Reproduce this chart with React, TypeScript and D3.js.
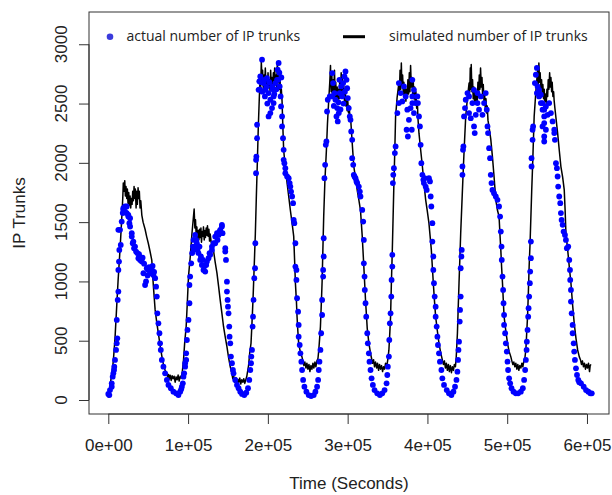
import React, { useEffect, useRef } from 'react';
import * as d3 from 'd3';

// Simulated number of IP trunks, [time in thousands of seconds, trunks]
const simulatedDay1: [number, number][] = [
  [0.0, 20], [2.1, 120], [4.6, 230], [6.3, 330], [8.4, 520], [10.6, 800], [12.2, 1000], [14.7, 1270], [16.6, 1500],
  [18.1, 1700], [18.8, 1830], [19.7, 1760], [20.6, 1850], [21.4, 1720], [22.2, 1800], [23.1, 1700], [23.9, 1780],
  [24.7, 1660], [25.6, 1750], [26.4, 1640], [27.3, 1720], [28.1, 1620], [28.9, 1700], [29.8, 1650], [30.6, 1760],
  [31.4, 1680], [32.3, 1800], [33.2, 1700], [33.9, 1780], [34.8, 1620], [35.7, 1760], [36.4, 1650], [37.3, 1790],
  [38.2, 1700], [38.9, 1760], [39.8, 1620], [40.7, 1680], [42.0, 1560], [43.6, 1500], [46.1, 1440], [48.0, 1380],
  [50.2, 1320], [52.4, 1250], [54.5, 1180], [56.5, 960], [58.7, 760], [60.8, 650], [62.8, 560], [64.9, 460],
  [67.1, 370], [69.1, 300], [71.2, 250], [73.4, 225], [74.4, 190], [75.4, 215], [76.2, 175], [77.5, 210], [78.8, 165],
  [80.0, 205], [81.3, 180], [82.5, 200], [83.8, 150], [85.0, 195], [86.3, 170], [87.5, 210], [88.8, 160], [90.1, 200],
  [91.3, 185], [92.6, 230],
];
const simulatedDay2: [number, number][] = [
  [94.2, 330], [95.7, 480], [97.6, 620], [99.1, 830], [100.5, 1040], [102.6, 1200], [104.8, 1400], [106.4, 1520],
  [107.6, 1610], [108.5, 1450], [109.3, 1520], [110.2, 1380], [111.0, 1460], [111.8, 1340], [112.7, 1430],
  [113.5, 1350], [114.3, 1440], [115.2, 1370], [116.1, 1450], [116.8, 1330], [117.7, 1420], [118.6, 1380],
  [119.3, 1460], [120.2, 1350], [121.1, 1430], [121.8, 1370], [122.7, 1450], [123.6, 1390], [124.3, 1470],
  [125.2, 1380], [126.1, 1440], [126.9, 1340], [127.7, 1400], [129.0, 1330], [130.2, 1300], [131.9, 1260],
  [134.0, 1160], [136.2, 1070], [138.2, 960], [140.3, 840], [142.4, 730], [144.4, 620], [146.6, 530], [148.7, 450],
  [150.7, 360], [152.9, 280], [154.7, 230], [156.0, 180], [157.3, 200], [158.5, 150], [159.8, 190], [161.0, 140],
  [162.3, 175], [163.5, 150], [164.8, 185], [166.0, 135], [167.3, 170], [168.6, 150], [169.8, 180], [171.1, 140],
  [172.3, 170], [173.6, 200], [174.8, 250], [175.8, 290], [177.3, 400],
];
const simulatedDay3: [number, number][] = [
  [178.9, 480], [180.1, 650], [181.4, 850], [183.0, 1150], [184.3, 1400], [185.5, 1700], [186.8, 2000], [188.0, 2300],
  [189.3, 2550], [190.2, 2700], [190.9, 2620], [191.8, 2850], [192.7, 2700], [193.4, 2780], [194.3, 2620],
  [195.2, 2740], [195.9, 2640], [196.8, 2800], [197.7, 2650], [198.4, 2720], [199.3, 2600], [200.2, 2760],
  [201.0, 2640], [201.8, 2700], [202.7, 2610], [203.5, 2780], [204.3, 2650], [205.2, 2720], [206.0, 2620],
  [206.9, 2760], [207.7, 2640], [208.5, 2800], [209.4, 2660], [210.3, 2740], [211.0, 2620], [211.9, 2850],
  [212.8, 2680], [213.5, 2760], [214.4, 2620], [215.3, 2700], [216.0, 2580], [216.9, 2620], [217.8, 2520],
  [218.8, 2300], [219.8, 2110], [221.9, 1950], [224.1, 1830], [226.1, 1720], [228.2, 1600], [230.4, 1490],
  [232.4, 1380], [233.5, 1180], [234.5, 990], [235.8, 830], [236.6, 700], [237.6, 580], [238.6, 480], [240.8, 400],
  [242.9, 360], [243.9, 330], [245.2, 290], [246.4, 320], [247.7, 270], [248.9, 310], [250.2, 260], [251.5, 300],
  [252.7, 240], [254.0, 290], [255.2, 260], [256.5, 310], [257.7, 270], [259.0, 320], [260.2, 280], [261.5, 330],
  [262.8, 350], [263.8, 420], [264.9, 520],
];
const simulatedDay4: [number, number][] = [
  [265.9, 620], [267.2, 850], [268.0, 1000], [269.0, 1280], [270.0, 1550], [271.5, 1850], [273.4, 2110], [274.7, 2330],
  [276.3, 2530], [277.6, 2680], [278.5, 2820], [279.3, 2600], [280.1, 2760], [281.0, 2550], [281.9, 2700],
  [282.6, 2600], [283.5, 2780], [284.4, 2560], [285.1, 2680], [286.0, 2520], [286.9, 2640], [287.6, 2500],
  [288.5, 2620], [289.4, 2540], [290.1, 2700], [291.0, 2580], [291.9, 2760], [292.6, 2600], [293.5, 2720],
  [294.4, 2560], [295.2, 2650], [296.0, 2520], [296.9, 2620], [297.7, 2480], [298.6, 2560], [299.4, 2440],
  [300.2, 2520], [301.1, 2420], [301.9, 2480], [302.7, 2400], [303.6, 2390], [305.7, 2170], [307.7, 1970],
  [309.9, 1870], [312.0, 1770], [314.0, 1690], [316.1, 1600], [318.3, 1380], [320.3, 1125], [322.4, 844],
  [324.6, 600], [326.6, 480], [328.7, 394], [330.0, 350], [331.2, 310], [332.5, 340], [333.7, 280], [335.0, 320],
  [336.3, 270], [337.5, 310], [338.8, 250], [340.0, 300], [341.3, 260], [342.5, 290], [343.8, 240], [345.0, 280],
  [346.3, 260], [347.5, 310], [348.8, 280], [350.1, 330], [351.7, 420],
];
const simulatedDay5: [number, number][] = [
  [352.8, 560], [353.8, 703], [354.8, 980], [356.0, 1266], [357.0, 1550], [358.0, 1829], [359.1, 2100], [360.1, 2391],
  [362.0, 2550], [364.2, 2673], [364.9, 2600], [365.7, 2780], [366.6, 2620], [367.3, 2842], [368.0, 2650],
  [368.9, 2740], [369.8, 2580], [370.5, 2680], [371.4, 2560], [372.3, 2640], [373.0, 2520], [373.9, 2620],
  [374.8, 2560], [375.5, 2700], [376.4, 2580], [377.3, 2760], [378.1, 2600], [378.9, 2820], [379.8, 2640],
  [380.6, 2720], [381.5, 2580], [382.3, 2680], [383.1, 2540], [384.0, 2640], [384.8, 2500], [385.6, 2600],
  [386.5, 2460], [387.4, 2520], [388.1, 2380], [389.4, 2250], [391.5, 2110], [393.7, 1969], [395.6, 1830],
  [397.8, 1688], [399.9, 1590], [401.9, 1491], [403.4, 1380], [404.9, 1266], [406.2, 1120], [407.4, 985],
  [408.8, 840], [410.3, 703], [412.5, 580], [414.5, 478], [416.6, 400], [418.7, 338], [420.0, 300], [421.3, 330],
  [422.5, 270], [423.8, 310], [425.0, 250], [426.3, 300], [427.5, 240], [428.8, 290], [430.1, 230], [431.3, 280],
  [432.6, 250], [433.8, 300], [435.1, 280], [436.1, 360],
];
const simulatedDay6: [number, number][] = [
  [437.6, 563], [438.6, 780], [439.6, 985], [440.7, 1200], [441.7, 1407], [443.4, 1690], [445.1, 1969], [446.5, 2180],
  [448.0, 2391], [450.2, 2550], [452.2, 2673], [453.1, 2600], [453.7, 2800], [454.3, 2620], [454.9, 2830],
  [455.8, 2600], [456.6, 2700], [457.4, 2540], [458.3, 2640], [459.1, 2520], [460.0, 2600], [460.8, 2500],
  [461.6, 2580], [462.5, 2520], [463.3, 2680], [464.1, 2560], [465.0, 2740], [465.8, 2620], [466.6, 2800],
  [467.5, 2640], [468.4, 2720], [469.1, 2580], [470.0, 2660], [470.9, 2520], [471.6, 2600], [472.5, 2460],
  [473.4, 2540], [474.1, 2420], [475.0, 2480], [475.9, 2360], [477.3, 2300], [479.4, 2200], [481.5, 2050],
  [483.5, 1885], [485.7, 1688], [487.8, 1600], [489.8, 1547], [490.9, 1400], [492.0, 1266], [493.0, 1120],
  [494.1, 985], [495.1, 840], [496.1, 703], [498.3, 580], [500.4, 478], [502.4, 410], [504.5, 366], [505.8, 330],
  [507.1, 300], [508.3, 320], [509.6, 280], [510.8, 310], [512.1, 260], [513.3, 300], [514.6, 250], [515.8, 290],
  [517.1, 270], [518.4, 310], [519.6, 280], [520.9, 330], [522.1, 350], [523.4, 422],
];
const simulatedDay7: [number, number][] = [
  [524.4, 560], [525.5, 703], [526.5, 900], [527.5, 1125], [528.7, 1330], [529.7, 1547], [530.7, 1760], [531.8, 1969],
  [532.8, 2180], [533.8, 2391], [535.9, 2600], [538.1, 2785], [538.8, 2650], [539.7, 2842], [540.6, 2680],
  [541.3, 2760], [542.2, 2620], [543.1, 2700], [543.8, 2580], [544.7, 2660], [545.6, 2540], [546.4, 2620],
  [547.2, 2520], [548.1, 2580], [548.9, 2500], [549.8, 2620], [550.7, 2560], [551.4, 2700], [552.3, 2620],
  [553.2, 2760], [553.9, 2640], [554.8, 2720], [555.7, 2600], [556.4, 2680], [557.3, 2560], [558.2, 2600],
  [558.9, 2520], [559.8, 2460], [561.1, 2380], [563.2, 2251], [565.2, 2110], [567.3, 1969], [569.5, 1880],
  [571.5, 1772], [572.6, 1600], [573.6, 1407], [575.8, 1266], [577.8, 1125], [579.9, 985], [582.0, 800],
  [584.0, 647], [586.2, 520], [588.3, 422], [590.3, 366], [591.8, 340], [593.1, 300], [594.3, 330], [595.6, 280],
  [596.9, 310], [598.1, 260], [599.4, 300], [600.6, 270], [601.9, 310], [603.2, 240], [604.0, 290], [605.0, 300],
];

// Actual number of IP trunks, [time in thousands of seconds, trunks]
const actualDay1: [number, number][] = [
  [0.0, 51], [1.3, 42], [2.1, 84], [4.3, 112], [4.3, 141], [5.5, 197], [6.3, 225], [7.2, 253], [7.5, 281], [8.4, 338],
  [9.7, 422], [10.6, 478], [11.3, 520], [10.6, 675], [11.8, 844], [12.6, 914], [12.6, 1097], [13.4, 1167],
  [13.8, 1266], [15.6, 1308], [12.6, 1435], [14.7, 1435], [16.8, 1505], [18.1, 1576], [18.8, 1603], [18.8, 1618],
  [21.0, 1589], [21.0, 1632], [23.1, 1632], [23.1, 1576], [25.1, 1561], [25.1, 1547], [26.4, 1491], [27.3, 1533],
  [27.3, 1463], [29.4, 1407], [29.4, 1378], [30.6, 1322], [31.4, 1336], [32.3, 1280], [33.5, 1294], [34.8, 1252],
  [36.4, 1238], [37.7, 1196], [38.5, 1230], [39.8, 1181], [42.0, 1167], [43.0, 1200], [44.0, 1069], [44.9, 1150],
  [46.1, 970], [47.3, 1000], [48.2, 1111], [49.2, 1050], [50.2, 1097], [51.1, 1120], [52.4, 1069], [54.5, 1097],
  [55.5, 1130], [56.5, 1055], [57.4, 1080], [58.7, 1027], [59.9, 956], [60.8, 872], [61.5, 731], [62.8, 647],
  [64.1, 563], [64.9, 478], [65.8, 422], [67.1, 338], [69.1, 281], [71.2, 225], [73.4, 169], [75.4, 127], [78.4, 99],
  [81.6, 70], [85.0, 56], [87.9, 42], [90.1, 70],
];
const actualDay2: [number, number][] = [
  [91.3, 90], [92.2, 112], [93.4, 141], [94.2, 197], [95.1, 225], [96.3, 281], [96.3, 310], [97.6, 338], [97.6, 394],
  [98.5, 506], [99.2, 591], [100.5, 675], [101.7, 816], [101.7, 970], [102.6, 1041], [103.9, 1153], [105.1, 1238],
  [106.0, 1294], [106.8, 1350], [106.8, 1266], [108.9, 1392], [108.9, 1294], [110.2, 1350], [111.0, 1322],
  [111.8, 1266], [113.0, 1238], [114.3, 1294], [115.2, 1181], [116.1, 1210], [117.3, 1139], [118.6, 1181],
  [119.3, 1097], [120.2, 1125], [121.5, 1083], [122.7, 1139], [123.6, 1167], [125.6, 1196], [126.9, 1238],
  [127.7, 1224], [129.9, 1266], [129.9, 1294], [131.9, 1322], [134.0, 1378], [134.0, 1322], [136.2, 1407],
  [136.9, 1350], [138.2, 1392], [139.4, 1420], [140.3, 1435], [142.4, 1463], [142.4, 1477], [143.2, 1407],
  [146.6, 1280], [146.6, 1252], [147.5, 1181], [148.7, 998], [148.7, 914], [149.5, 844], [150.0, 787], [150.7, 731],
  [151.6, 619], [152.0, 534], [152.9, 478], [153.7, 366], [155.0, 310], [156.2, 253], [157.0, 225], [159.1, 169],
  [161.3, 127], [163.3, 99], [165.4, 70], [167.6, 51], [170.4, 42], [172.9, 62], [175.1, 99], [176.7, 169],
  [178.0, 253], [178.9, 310], [179.3, 366], [180.1, 422],
];
const actualDay3: [number, number][] = [
  [180.9, 619], [181.4, 703], [182.1, 844], [183.0, 1027], [183.9, 1111], [184.3, 1322], [185.2, 1913], [185.2, 2025],
  [185.6, 2053], [186.4, 2208], [186.4, 2321], [188.4, 2616], [189.3, 2687], [189.9, 2620], [190.5, 2729],
  [191.2, 2680], [192.7, 2870], [193.1, 2600], [194.7, 2673], [195.6, 2700], [196.3, 2560], [196.8, 2616],
  [198.1, 2640], [198.9, 2715], [199.3, 2500], [200.9, 2588], [200.9, 2391], [201.8, 2680], [203.1, 2532],
  [203.1, 2420], [205.2, 2644], [205.2, 2462], [206.2, 2620], [207.2, 2560], [207.2, 2504], [208.1, 2580],
  [209.4, 2673], [210.7, 2620], [211.5, 2700], [212.3, 2785], [213.2, 2700], [213.5, 2842], [214.4, 2760],
  [214.8, 2644], [216.0, 2560], [216.5, 2476], [216.9, 2720], [217.8, 2391], [217.8, 2307], [219.0, 2208],
  [219.8, 2110], [219.8, 2025], [220.7, 1997], [221.9, 1955], [221.9, 1913], [224.1, 1885], [226.1, 1871],
  [227.3, 1829], [228.2, 1800], [229.1, 1758], [230.4, 1716], [231.6, 1660], [232.4, 1519], [233.2, 1491],
  [234.5, 1322], [234.5, 1125], [235.8, 1097], [235.8, 1013], [236.6, 858], [237.9, 745], [238.6, 633], [238.6, 534],
  [239.9, 464], [240.8, 394], [242.0, 323], [242.9, 253], [244.2, 169], [245.8, 112], [248.3, 70], [251.2, 42],
  [254.2, 34], [257.5, 42], [259.6, 70], [261.7, 112], [263.0, 169], [263.8, 253], [264.7, 323], [265.9, 422],
];
const actualDay4: [number, number][] = [
  [266.8, 563], [268.0, 717], [268.0, 844], [269.3, 1041], [269.3, 1097], [270.0, 1210], [270.0, 1364], [270.9, 1871],
  [271.8, 1983], [272.6, 2152], [273.4, 2180], [274.2, 2433], [275.1, 2532], [277.6, 2560], [280.6, 2757],
  [280.6, 2560], [281.8, 2673], [282.7, 2480], [283.5, 2588], [284.7, 2532], [286.0, 2391], [286.9, 2462],
  [287.6, 2349], [288.5, 2510], [288.9, 2420], [289.7, 2700], [290.1, 2588], [291.0, 2450], [291.9, 2644],
  [293.1, 2560], [294.4, 2673], [294.8, 2500], [296.0, 2729], [296.6, 2600], [297.3, 2771], [298.6, 2700],
  [299.4, 2630], [300.2, 2546], [301.4, 2462], [302.7, 2391], [303.6, 2363], [304.5, 2265], [305.7, 2194],
  [305.7, 2039], [307.0, 1983], [307.7, 1899], [308.6, 1885], [309.9, 1871], [311.1, 1843], [312.0, 1829],
  [314.0, 1800], [315.3, 1758], [316.1, 1716], [318.3, 1603], [319.5, 1505], [320.3, 1350], [320.3, 1153],
  [321.2, 1041], [321.5, 928], [322.4, 816], [323.3, 703], [324.6, 563], [325.3, 478], [326.6, 394], [327.4, 323],
  [328.7, 253], [330.0, 183], [331.6, 127], [333.7, 84], [337.1, 56], [340.4, 42], [343.4, 56], [346.3, 84],
  [348.8, 141], [349.7, 211], [350.4, 281], [351.7, 366],
];
const actualDay5: [number, number][] = [
  [352.2, 506], [352.9, 647], [353.8, 731], [354.7, 872], [355.1, 1013], [356.0, 1125], [356.0, 1224], [356.7, 1829],
  [357.2, 1899], [358.0, 1955], [359.2, 2082], [360.1, 2138], [362.3, 2420], [364.2, 2504], [364.2, 2673],
  [366.4, 2588], [368.5, 2518], [370.6, 2644], [372.7, 2560], [373.9, 2279], [374.8, 2448], [375.5, 2222],
  [376.8, 2363], [378.9, 2462], [380.4, 2279], [381.1, 2560], [381.1, 2700], [381.1, 2504], [383.1, 2616],
  [383.1, 2420], [385.2, 2504], [387.4, 2560], [388.1, 2504], [389.4, 2391], [390.6, 2307], [391.5, 2152],
  [392.4, 1997], [393.7, 1899], [394.9, 1857], [395.6, 1829], [396.5, 1871], [397.8, 1800], [399.1, 1772],
  [401.9, 1871], [403.2, 1843], [404.1, 1716], [404.9, 1632], [406.2, 1491], [406.2, 1336], [407.4, 1210],
  [407.4, 1097], [408.2, 985], [409.1, 872], [410.3, 787], [410.3, 703], [411.6, 619], [412.5, 534], [413.2, 464],
  [414.5, 394], [415.7, 323], [417.5, 253], [418.7, 183], [420.8, 127], [424.2, 84], [427.0, 56], [430.1, 42],
  [432.6, 70], [434.6, 112], [436.4, 169],
];
const actualDay6: [number, number][] = [
  [437.6, 239], [438.4, 338], [438.9, 422], [439.6, 492], [440.5, 661], [440.9, 760], [441.7, 872], [441.7, 1111],
  [442.6, 1210], [443.0, 1266], [443.9, 1899], [443.9, 1969], [444.6, 2110], [445.1, 2138], [445.9, 2391],
  [447.1, 2462], [448.0, 2532], [450.2, 2588], [452.2, 2420], [452.2, 2560], [454.3, 2377], [456.4, 2504],
  [458.4, 2307], [458.4, 2616], [459.3, 2251], [460.6, 2405], [462.7, 2504], [462.7, 2588], [464.7, 2448],
  [466.9, 2560], [469.0, 2405], [471.0, 2504], [473.1, 2588], [474.4, 2448], [475.3, 2307], [476.0, 2251],
  [477.3, 2124], [478.5, 2039], [479.4, 1899], [480.3, 1829], [481.5, 1772], [483.5, 1744], [485.7, 1716],
  [487.8, 1688], [489.8, 1632], [491.1, 1547], [492.0, 1420], [492.9, 1294], [493.2, 1181], [494.1, 1041],
  [494.9, 928], [495.4, 816], [496.1, 717], [496.1, 633], [497.4, 563], [498.3, 478], [499.5, 408], [500.4, 323],
  [501.1, 253], [502.4, 183], [503.7, 141], [505.4, 99], [507.9, 70], [510.8, 56], [513.7, 56], [517.1, 70],
  [519.6, 99], [521.2, 169], [522.5, 253],
];
const actualDay7: [number, number][] = [
  [523.4, 338], [524.3, 422], [524.6, 492], [525.5, 591], [526.3, 703], [526.8, 774], [527.5, 872], [528.4, 985],
  [528.8, 1083], [529.7, 1196], [529.7, 1336], [530.5, 1969], [530.5, 2039], [531.8, 2194], [531.8, 2279],
  [532.5, 2307], [534.7, 2673], [535.9, 2743], [537.2, 2800], [537.2, 2588], [538.1, 2644], [540.0, 2616],
  [540.0, 2560], [542.2, 2574], [542.2, 2504], [544.3, 2504], [544.3, 2448], [544.3, 2307], [546.4, 2448],
  [546.4, 2335], [546.4, 2391], [546.4, 2222], [546.4, 2180], [548.5, 2476], [548.5, 2279], [550.7, 2405],
  [552.6, 2504], [554.8, 2420], [556.9, 2349], [559.0, 2251], [559.0, 2279], [559.8, 2194], [561.1, 1997],
  [562.3, 1955], [563.2, 1885], [563.9, 1800], [565.2, 1716], [566.5, 1660], [567.3, 1576], [568.2, 1519],
  [569.5, 1477], [570.7, 1420], [572.4, 1392], [573.6, 1350], [574.8, 1280], [576.5, 1294], [577.8, 1181],
  [578.7, 1097], [579.0, 1013], [579.9, 928], [579.9, 830], [580.8, 731], [582.0, 633], [582.0, 563], [583.3, 478],
  [584.0, 408], [584.9, 338], [586.2, 267], [587.5, 211], [589.1, 169], [590.3, 150], [592.5, 141], [595.9, 112],
  [598.8, 84], [601.7, 70], [604.2, 56], [606.0, 56],
];

const xTicks = [0, 100000, 200000, 300000, 400000, 500000, 600000];
const xTickLabels = ['0e+00', '1e+05', '2e+05', '3e+05', '4e+05', '5e+05', '6e+05'];
const yTicks = [0, 500, 1000, 1500, 2000, 2500, 3000];
const legendLabels = ['actual number of IP trunks', 'simulated number of IP trunks'];

const App = () => {
  const svgRef = useRef<SVGSVGElement>(null);

  useEffect(() => {
    const svg = d3.select(svgRef.current);
    svg.selectAll('*').remove();

    // plot region (R style box) 89..609 x 12..414
    const x = d3.scaleLinear().domain([-24200, 627600]).range([89, 609]);
    const y = d3.scaleLinear().domain([-118, 3272]).range([414, 12]);

    const toPoints = (rows: [number, number][]) => rows.map(([k, v]) => ({ t: k * 1000, v }));
    const simulated = toPoints([
      ...simulatedDay1, ...simulatedDay2, ...simulatedDay3, ...simulatedDay4,
      ...simulatedDay5, ...simulatedDay6, ...simulatedDay7,
    ]);
    const actual = toPoints([
      ...actualDay1, ...actualDay2, ...actualDay3, ...actualDay4,
      ...actualDay5, ...actualDay6, ...actualDay7,
    ]);

    const axisFont = '"Liberation Sans", Arial, sans-serif';

    // simulated line
    const line = d3.line<{ t: number; v: number }>()
      .x(d => x(d.t))
      .y(d => y(d.v));

    svg.append('path')
      .datum(simulated)
      .attr('fill', 'none')
      .attr('stroke', '#000')
      .attr('stroke-width', 1.5)
      .attr('stroke-linejoin', 'round')
      .attr('d', line);

    // actual points
    svg.append('g')
      .selectAll('circle')
      .data(actual)
      .join('circle')
      .attr('cx', d => x(d.t))
      .attr('cy', d => y(d.v))
      .attr('r', 2.9)
      .attr('fill', '#0000ff');

    // box
    svg.append('rect')
      .attr('x', x.range()[0])
      .attr('y', y.range()[1])
      .attr('width', x.range()[1] - x.range()[0])
      .attr('height', y.range()[0] - y.range()[1])
      .attr('fill', 'none')
      .attr('stroke', '#333')
      .attr('stroke-width', 1);

    // x axis
    const xAxis = svg.append('g')
      .attr('transform', `translate(0,${y.range()[0]})`)
      .call(d3.axisBottom(x)
        .tickValues(xTicks)
        .tickSize(10)
        .tickPadding(15)
        .tickFormat((d, i) => xTickLabels[i]));
    xAxis.select('.domain')
      .attr('d', `M${x(xTicks[0])},0H${x(xTicks[xTicks.length - 1])}`)
      .attr('stroke', '#333');
    xAxis.selectAll('.tick line').attr('stroke', '#333');
    xAxis.selectAll('.tick text')
      .attr('font-family', axisFont)
      .attr('font-size', 17)
      .attr('fill', '#222');

    // y axis
    const yAxis = svg.append('g')
      .attr('transform', `translate(${x.range()[0]},0)`)
      .call(d3.axisLeft(y).tickValues(yTicks).tickSize(10).tickFormat(() => ''));
    yAxis.select('.domain')
      .attr('d', `M0,${y(yTicks[0])}V${y(yTicks[yTicks.length - 1])}`)
      .attr('stroke', '#333');
    yAxis.selectAll('.tick line').attr('stroke', '#333');

    svg.append('g')
      .selectAll('text')
      .data(yTicks)
      .join('text')
      .attr('transform', d => `translate(67,${y(d)}) rotate(-90)`)
      .attr('text-anchor', 'middle')
      .attr('font-family', axisFont)
      .attr('font-size', 17)
      .attr('fill', '#222')
      .text(d => String(d));

    // axis titles
    svg.append('text')
      .attr('x', (x.range()[0] + x.range()[1]) / 2)
      .attr('y', 489)
      .attr('text-anchor', 'middle')
      .attr('font-family', axisFont)
      .attr('font-size', 17)
      .attr('fill', '#222')
      .text('Time (Seconds)');

    svg.append('text')
      .attr('transform', `translate(25,${(y.range()[0] + y.range()[1]) / 2}) rotate(-90)`)
      .attr('text-anchor', 'middle')
      .attr('font-family', axisFont)
      .attr('font-size', 17)
      .attr('fill', '#222')
      .text('IP Trunks');

    // legends
    const legendFont = '"Open Sans", "Noto Sans", sans-serif';
    svg.append('circle')
      .attr('cx', 110)
      .attr('cy', 36.7)
      .attr('r', 3.3)
      .attr('fill', '#3b3bdc');
    svg.append('text')
      .attr('x', 126.5)
      .attr('y', 41)
      .attr('font-family', legendFont)
      .attr('font-size', 14)
      .attr('fill', '#222')
      .text(legendLabels[0]);

    svg.append('line')
      .attr('x1', 343)
      .attr('x2', 365)
      .attr('y1', 36.7)
      .attr('y2', 36.7)
      .attr('stroke', '#000')
      .attr('stroke-width', 3);
    svg.append('text')
      .attr('x', 389)
      .attr('y', 41)
      .attr('font-family', legendFont)
      .attr('font-size', 14)
      .attr('fill', '#222')
      .text(legendLabels[1]);
  }, []);

  return (
    <svg
      ref={svgRef}
      width={612}
      height={495}
      style={{ position: 'absolute', left: 0, top: 0, background: '#fff' }}
    />
  );
};

export default App;
